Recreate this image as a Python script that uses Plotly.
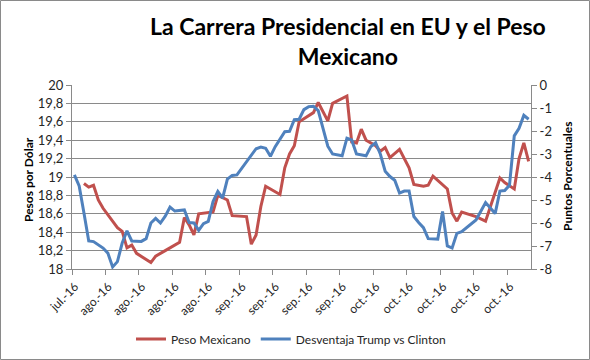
import pandas as pd
import plotly.graph_objects as go

# ---- data ----
start_date = "2016-07-31"
tick_labels = ["jul.-16", "ago.-16", "ago.-16", "ago.-16", "ago.-16",
               "sep.-16", "sep.-16", "sep.-16", "sep.-16",
               "oct.-16", "oct.-16", "oct.-16", "oct.-16", "oct.-16"]

peso_days = [2, 3, 4, 5, 6, 9, 10, 11, 12, 13, 16, 17, 19, 22, 23, 24, 25, 26, 29, 30,
             32, 33, 36, 37, 38, 39, 40, 43, 44, 45, 46, 47, 50, 51, 53, 54, 57, 58, 59,
             60, 61, 63, 64, 65, 66, 68, 70, 71, 73, 74, 75, 78, 79, 80, 81, 84, 86, 89,
             90, 92, 93, 94, 95]
peso_values = [18.93, 18.89, 18.91, 18.75, 18.66, 18.45, 18.41, 18.23, 18.26, 18.17,
               18.07, 18.14, 18.20, 18.29, 18.56, 18.48, 18.37, 18.60, 18.62, 18.80,
               18.75, 18.58, 18.57, 18.27, 18.37, 18.68, 18.90, 18.81, 19.10, 19.25,
               19.34, 19.60, 19.70, 19.81, 19.61, 19.80, 19.88, 19.38, 19.37, 19.52,
               19.40, 19.34, 19.28, 19.32, 19.21, 19.30, 19.10, 18.92, 18.90, 18.91,
               19.01, 18.87, 18.61, 18.52, 18.62, 18.57, 18.52, 18.99, 18.94, 18.87,
               19.20, 19.37, 19.17]

poll_days = [0, 1, 2, 3, 4, 5, 6, 7, 8, 9, 10, 11, 12, 14, 15, 16, 17, 18, 19, 20, 21,
             23, 24, 25, 26, 27, 28, 29, 30, 31, 32, 33, 34, 38, 39, 40, 41, 42, 44, 45,
             46, 47, 48, 49, 50, 51, 52, 53, 54, 56, 57, 58, 59, 61, 62, 63, 64, 65, 66,
             67, 68, 69, 70, 71, 72, 73, 74, 76, 77, 78, 79, 80, 81, 84, 86, 88, 89, 90,
             91, 92, 93, 94, 95]
poll_values = [-3.91, -4.39, -5.57, -6.78, -6.81, -6.94, -7.09, -7.31, -7.91, -7.68,
               -6.87, -6.34, -6.78, -6.80, -6.68, -6.00, -5.80, -6.00, -5.70, -5.31,
               -5.48, -5.43, -5.98, -6.00, -6.32, -6.03, -5.93, -5.07, -4.63, -4.92,
               -4.09, -3.93, -3.91, -2.77, -2.70, -2.75, -3.10, -2.68, -2.03, -2.01,
               -1.51, -1.49, -1.07, -0.94, -0.93, -1.11, -1.91, -2.66, -3.00, -3.08,
               -2.31, -2.39, -3.00, -3.08, -2.68, -2.51, -3.01, -3.75, -3.98, -4.14,
               -4.70, -4.61, -4.61, -5.72, -5.98, -6.20, -6.68, -6.70, -5.50, -7.00,
               -7.09, -6.45, -6.38, -5.87, -5.11, -5.59, -4.61, -4.59, -4.36, -2.21,
               -1.88, -1.32, -1.49]

left_ticks = [18, 18.2, 18.4, 18.6, 18.8, 19, 19.2, 19.4, 19.6, 19.8, 20]
left_tick_text = ["18", "18,2", "18,4", "18,6", "18,8", "19", "19,2", "19,4", "19,6", "19,8", "20"]
right_ticks = [-8, -7, -6, -5, -4, -3, -2, -1, 0]
right_tick_text = ["-8", "-7", "-6", "-5", "-4", "-3", "-2", "-1", "0"]

# ---- build ----
d0 = pd.Timestamp(start_date)
peso_x = [d0 + pd.Timedelta(days=d) for d in peso_days]
poll_x = [d0 + pd.Timedelta(days=d) for d in poll_days]
half = pd.Timedelta(hours=12)
x_range = [d0 - half, d0 + pd.Timedelta(days=max(poll_days)) + half]
tick_vals = [d0 - half + pd.Timedelta(days=7 * i) for i in range(len(tick_labels))]

FONT = "Lato"
GRID = "#8a8a8a"

fig = go.Figure()
fig.add_trace(go.Scatter(x=peso_x, y=peso_values, name="Peso Mexicano", mode="lines",
                         line=dict(color="#C0504D", width=3), yaxis="y"))
fig.add_trace(go.Scatter(x=poll_x, y=poll_values, name="Desventaja Trump vs Clinton",
                         mode="lines", line=dict(color="#4F81BD", width=3), yaxis="y2"))

W, H = 590, 360
ml, mr, mt, mb = 72, 59, 85, 91
pw, ph = W - ml - mr, H - mt - mb

def px_x(x):
    return (x - ml) / pw

def px_y(y):
    return (mt + ph - y) / ph

axis_title_font = dict(family=FONT, size=12, color="#000000", weight="bold")

fig.update_layout(
    width=W, height=H,
    margin=dict(l=ml, r=mr, t=mt, b=mb, autoexpand=False),
    paper_bgcolor="white", plot_bgcolor="white",
    font=dict(family=FONT, size=12, color="#262626"),
    xaxis=dict(type="date", range=x_range, tickvals=tick_vals, ticktext=tick_labels,
               tickangle=-45, ticks="outside", ticklen=5, tickcolor=GRID,
               showline=True, linecolor=GRID, linewidth=1, showgrid=False,
               zeroline=False, tickfont=dict(size=12), ticklabelshift=3,
               automargin=False),
    yaxis=dict(range=[18, 20], tickvals=left_ticks, ticktext=left_tick_text,
               showgrid=True, gridcolor=GRID, gridwidth=1,
               showline=True, linecolor=GRID, ticks="outside", ticklen=5, tickcolor=GRID,
               zeroline=False, tickfont=dict(size=13), automargin=False),
    yaxis2=dict(range=[-8, 0], tickvals=right_ticks, ticktext=right_tick_text,
                overlaying="y", side="right", showgrid=False,
                showline=True, linecolor=GRID, ticks="outside", ticklen=5, tickcolor=GRID,
                zeroline=False, tickfont=dict(size=13), automargin=False),
    legend=dict(orientation="h", x=px_x(291), xanchor="center",
                y=px_y(339), yanchor="middle",
                font=dict(size=12, color="#262626"), itemwidth=30,
                bgcolor="rgba(0,0,0,0)"),
    annotations=[
        dict(text="La Carrera Presidencial en EU y el Peso<br>Mexicano",
             xref="paper", yref="paper", x=px_x(348), y=px_y(10),
             xanchor="center", yanchor="top", showarrow=False,
             font=dict(family=FONT, size=23, color="#000000", weight="bold")),
        dict(text="Pesos por Dólar", xref="paper", yref="paper",
             x=px_x(28), y=px_y(180), xanchor="center", yanchor="middle",
             textangle=-90, showarrow=False, font=axis_title_font),
        dict(text="Puntos Porcentuales", xref="paper", yref="paper",
             x=px_x(567), y=px_y(177), xanchor="center", yanchor="middle",
             textangle=-90, showarrow=False, font=axis_title_font),
    ],
    shapes=[dict(type="rect", xref="paper", yref="paper",
                 x0=px_x(0.5), x1=px_x(W - 0.5),
                 y0=px_y(H - 0.5), y1=px_y(0.5),
                 line=dict(color="#8a8a8a", width=1), fillcolor="rgba(0,0,0,0)")],
)

fig.write_html("out.html", config={"displayModeBar": False},
               post_script="document.body.style.margin='0';")
